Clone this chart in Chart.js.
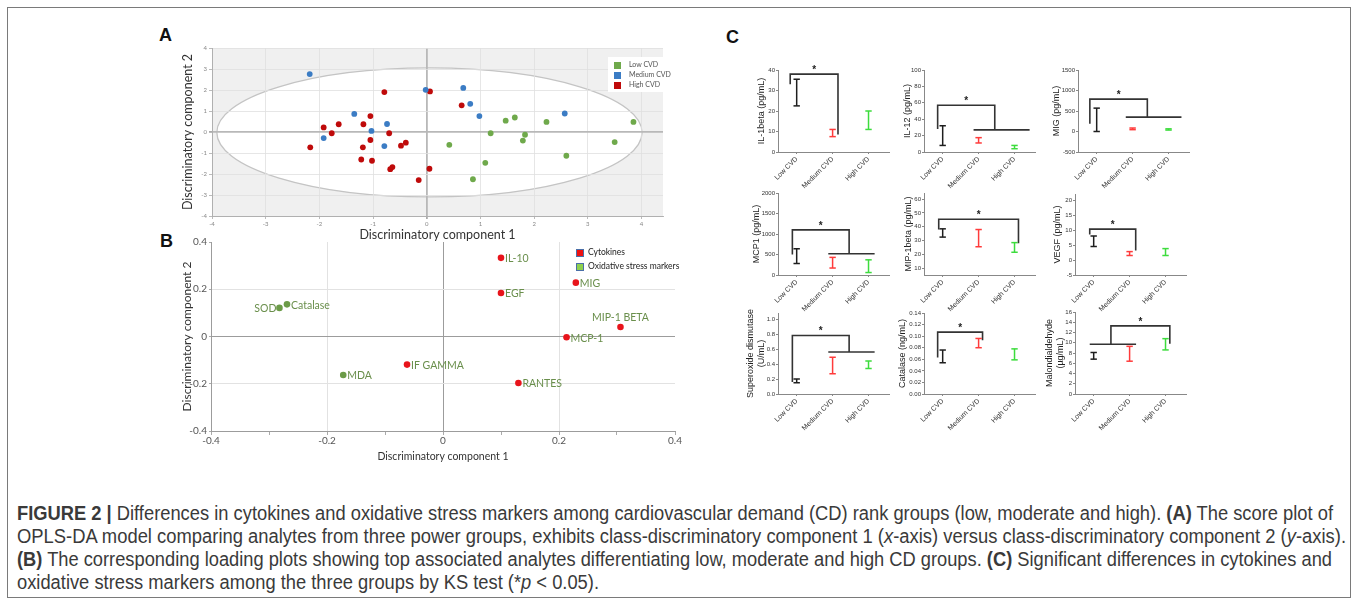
<!DOCTYPE html>
<html>
<head>
<meta charset="utf-8">
<title>Figure 2</title>
<script src="https://cdn.jsdelivr.net/npm/chart.js@4.4.1/dist/chart.umd.min.js"></script>
<style>
  html, body { margin: 0; padding: 0; background: #fff; }
  body { width: 1357px; height: 604px; position: relative; overflow: hidden; font-family: 'Liberation Sans', Arial, sans-serif; }
  #frame { position: absolute; left: 7px; top: 7px; width: 1344px; height: 591px; border: 1px solid #7a7a7a; box-sizing: border-box; }
  canvas { position: absolute; }
  .panel { position: absolute; font: bold 18px/18px 'Liberation Sans', Arial, sans-serif; color: #111; }
  .legend { position: absolute; background: #fff; font-family: Lato, sans-serif; }
  .legend span { position: absolute; white-space: nowrap; }
  .legend i { position: absolute; display: block; box-sizing: border-box; }
  .cap { position: absolute; left: 17px; white-space: nowrap; font: 19.5px/23px 'Liberation Sans', Arial, sans-serif; color: #3a3a3a; transform-origin: 0 0; }
</style>
</head>
<body>
<div id="frame"></div>

<div class="panel" style="left:159px;top:26px">A</div>
<div class="panel" style="left:160px;top:232px">B</div>
<div class="panel" style="left:726px;top:28px">C</div>

<div class="cap" id="l1" style="top:502px"><b>FIGURE 2 |</b> Differences in cytokines and oxidative stress markers among cardiovascular demand (CD) rank groups (low, moderate and high). <b>(A)</b> The score plot of</div>
<div class="cap" id="l2" style="top:525px">OPLS-DA model comparing analytes from three power groups, exhibits class-discriminatory component 1 (<i>x</i>-axis) versus class-discriminatory component 2 (<i>y</i>-axis).</div>
<div class="cap" id="l3" style="top:548px"><b>(B)</b> The corresponding loading plots showing top associated analytes differentiating low, moderate and high CD groups. <b>(C)</b> Significant differences in cytokines and</div>
<div class="cap" id="l4" style="top:571px">oxidative stress markers among the three groups by KS test (*<i>p</i> &lt; 0.05).</div>

<script>
// ---- panel A : score plot ----
const aTicks = [-4, -3, -2, -1, 0, 1, 2, 3, 4];
const lowX  = [0.42, 0.86, 1.09, 1.19, 1.47, 1.64, 1.79, 1.83, 2.23, 2.60, 3.50, 3.85];
const lowY  = [-0.61, -2.25, -1.47, -0.06, 0.54, 0.69, -0.41, -0.13, 0.48, -1.13, -0.48, 0.48];
const medX  = [-2.18, -1.92, -1.35, -1.03, -0.74, -0.79, -0.02, 0.68, 0.81, 0.98, 2.57];
const medY  = [2.76, -0.29, 0.86, 0.05, 0.38, -0.67, 2.01, 2.10, 1.34, 0.76, 0.88];
const highX = [-2.17, -1.92, -1.77, -1.64, -1.18, -1.05, -1.19, -1.05, -1.22, -1.02, -0.79, -0.70, -0.48, -0.39, -0.68, -0.64, -0.15, 0.06, 0.05, 0.65];
const highY = [-0.73, 0.22, -0.06, 0.37, 0.37, 0.76, -0.73, -0.38, -1.31, -1.37, 1.90, -0.06, -0.65, -0.51, -1.77, -1.67, -2.29, 1.93, -1.75, 1.27];
// Hotelling ellipse (centre and radii, data units)
const ellipse = [0.05, -0.02, 3.96, 3.07];

// ---- panel B : loading plot ----
const bxTicks = [-0.4, -0.3, -0.2, -0.1, 0, 0.1, 0.2, 0.3, 0.4];
const byTicks = [-0.4, -0.2, 0, 0.2, 0.4];
const cytoNames = ['IL-10', 'EGF', 'MIG', 'MIP-1 BETA', 'MCP-1', 'RANTES', 'IF GAMMA'];
const cytoX = [0.100, 0.100, 0.229, 0.306, 0.213, 0.130, -0.062];
const cytoY = [0.333, 0.184, 0.228, 0.040, -0.003, -0.197, -0.119];
const oxNames = ['MDA', 'SOD', 'Catalase'];
const oxX = [-0.172, -0.282, -0.269];
const oxY = [-0.163, 0.121, 0.136];

// ---- panel C : error bars (low / high end) per group ----
const groups = ['Low CVD', 'Medium CVD', 'High CVD'];
const il1bLo = [22.5, 7.5, 11],     il1bHi = [35.5, 11, 20];
const il12Lo = [8, 11, 4],          il12Hi = [32, 17.5, 8];
const migLo  = [0, 45, 35],         migHi  = [570, 85, 65];
const mcp1Lo = [280, 170, 60],      mcp1Hi = [640, 430, 370];
const mipLo  = [32.5, 25.5, 21.5],  mipHi  = [38.5, 38, 28.5];
const vegfLo = [4.5, 1.5, 1.5],     vegfHi = [8, 2.8, 3.8];
const sodLo  = [0.15, 0.27, 0.34],  sodHi  = [0.20, 0.49, 0.44];
const catLo  = [0.054, 0.080, 0.059], catHi = [0.076, 0.096, 0.078];
const mdaLo  = [6.8, 6.4, 8.6],     mdaHi  = [8.1, 9.3, 10.8];

const il1bTicks = [0, 10, 20, 30, 40];
const il12Ticks = [0, 20, 40, 60, 80, 100];
const migTicks  = [-500, 0, 500, 1000, 1500];
const mcp1Ticks = [0, 500, 1000, 1500, 2000];
const mipTicks  = [10, 20, 30, 40, 50, 60];
const vegfTicks = [-5, 0, 5, 10, 15, 20];
const sodTicks  = [0, 0.2, 0.4, 0.6, 0.8, 1.0];
const catTicks  = [0, 0.02, 0.04, 0.06, 0.08, 0.10, 0.12, 0.14];
const mdaTicks  = [0, 2, 4, 6, 8, 10, 12, 14, 16];

// significance brackets, x in group index units
const il1bSig = [[-0.18, 33], [-0.18, 38], [1.15, 38], [1.15, 8.5]];
const il12Sig = [[-0.14, 28], [-0.14, 57], [1.45, 57], [1.45, 27]];
const il12Grp = [[0.86, 27], [2.42, 27]];
const migSig  = [[-0.19, 190], [-0.19, 790], [1.41, 790], [1.41, 350]];
const migGrp  = [[0.81, 350], [2.36, 350]];
const mcp1Sig = [[-0.12, 500], [-0.12, 1100], [1.46, 1100], [1.46, 520]];
const mcp1Grp = [[0.88, 520], [2.17, 520]];
const mipSig  = [[-0.11, 38], [-0.11, 45.5], [2.11, 45.5], [2.11, 28]];
const vegfSig = [[-0.11, 8.5], [-0.11, 10.3], [1.17, 10.3], [1.17, 3.2]];
const sodSig  = [[-0.12, 0.16], [-0.12, 0.78], [1.46, 0.78], [1.46, 0.56]];
const sodGrp  = [[0.88, 0.56], [2.17, 0.56]];
const catSig  = [[-0.14, 0.063], [-0.14, 0.107], [1.11, 0.107], [1.11, 0.093]];
const mdaSig  = [[0.48, 9.7], [0.48, 13.3], [2.12, 13.3], [2.12, 9.8]];
const mdaGrp  = [[-0.11, 9.7], [1.18, 9.7]];

const barColors = ['#1e1e1e', '#ff3b3b', '#3ddc3d'];
const LATO = 'Lato, sans-serif';
const ARIAL = "'Liberation Sans', Arial, sans-serif";

Chart.defaults.animation = false;
Chart.defaults.responsive = false;
Chart.defaults.plugins.legend.display = false;
Chart.defaults.plugins.tooltip.enabled = false;

function addCanvas(left, top, w, h) {
  const c = document.createElement('canvas');
  c.width = w; c.height = h;
  c.style.left = left + 'px'; c.style.top = top + 'px';
  c.style.width = w + 'px'; c.style.height = h + 'px';
  document.body.appendChild(c);
  return c;
}
const zip = (xs, ys) => xs.map((x, i) => ({x: x, y: ys[i]}));
const fixTicks = arr => s => { s.ticks = arr.map(v => ({value: v})); };

// ---------- panel A ----------
const ellipseBg = {
  id: 'ellipseBg',
  beforeDraw(chart) {
    const {ctx, chartArea: a, scales: {x, y}} = chart;
    const cx = x.getPixelForValue(ellipse[0]), cy = y.getPixelForValue(ellipse[1]);
    const rx = x.getPixelForValue(ellipse[0] + ellipse[2]) - cx;
    const ry = cy - y.getPixelForValue(ellipse[1] + ellipse[3]);
    ctx.save();
    ctx.fillStyle = '#f0f0f0';
    ctx.fillRect(a.left, a.top, a.right - a.left, a.bottom - a.top);
    ctx.beginPath();
    ctx.ellipse(cx, cy, rx, ry, 0, 0, Math.PI * 2);
    ctx.fillStyle = '#fff';
    ctx.fill();
    ctx.strokeStyle = '#c4c4c4';
    ctx.lineWidth = 1.3;
    ctx.stroke();
    ctx.restore();
  }
};

const aGrid = {
  color: c => (c.tick && c.tick.value === 0) ? '#b8b8b8' : '#e0e0e0',
  lineWidth: c => (c.tick && c.tick.value === 0) ? 1.8 : 0.8,
  tickColor: '#aaa', tickLength: 3
};

new Chart(addCanvas(180, 42, 487, 200), {
  type: 'scatter',
  data: { datasets: [
    {data: zip(lowX, lowY), backgroundColor: '#6fa94b', borderWidth: 0, pointRadius: 2.9},
    {data: zip(medX, medY), backgroundColor: '#3b7cc4', borderWidth: 0, pointRadius: 2.9},
    {data: zip(highX, highY), backgroundColor: '#bf0a0a', borderWidth: 0, pointRadius: 2.9}
  ]},
  options: {
    layout: {padding: {top: 6, right: 4, left: 0, bottom: 0}},
    scales: {
      x: {type: 'linear', min: -4, max: 4.4, afterBuildTicks: fixTicks(aTicks),
          afterFit: s => { s.height = 26; },
          ticks: {font: {family: LATO, size: 6}, color: '#888', padding: 1, maxRotation: 0},
          grid: aGrid, border: {color: '#b0b0b0'},
          title: {display: true, text: 'Discriminatory component 1', font: {family: LATO, size: 12.5}, color: '#333', padding: 0}},
      y: {type: 'linear', min: -4, max: 4, afterBuildTicks: fixTicks(aTicks),
          afterFit: s => { s.width = 32; },
          ticks: {font: {family: LATO, size: 6}, color: '#888', padding: 2},
          grid: aGrid, border: {color: '#b0b0b0'},
          title: {display: true, text: 'Discriminatory component 2', font: {family: LATO, size: 12.5}, color: '#333', padding: 0}}
    }
  },
  plugins: [ellipseBg]
});

// ---------- panel B ----------
const pointLabels = {
  id: 'pointLabels',
  afterDatasetsDraw(chart) {
    const ctx = chart.ctx;
    ctx.save();
    ctx.font = '10.5px ' + LATO;
    ctx.fillStyle = '#6a8f4c';
    ctx.textBaseline = 'middle';
    chart.data.datasets.forEach((ds, di) => {
      chart.getDatasetMeta(di).data.forEach((el, i) => {
        const name = ds.names[i];
        if (name === 'SOD') {
          ctx.textAlign = 'right'; ctx.fillText(name, el.x - 3, el.y + 1);
        } else if (name === 'MIP-1 BETA') {
          ctx.textAlign = 'center'; ctx.fillText(name, el.x, el.y - 9);
        } else {
          ctx.textAlign = 'left'; ctx.fillText(name, el.x + 4, el.y + 1);
        }
      });
    });
    ctx.restore();
  }
};
const bFmt = v => { const r = Math.round(v * 10) / 10; return r === 0 ? '0' : r.toFixed(1); };
const bGridColor = c => {
  if (!c.tick) return 'rgba(0,0,0,0)';
  const v = Math.round(c.tick.value * 10) / 10;
  if (v === 0) return '#9c9c9c';
  if (Math.abs(v) === 0.2) return '#e2e2e2';
  return 'rgba(0,0,0,0)';
};

new Chart(addCanvas(180, 234, 509, 229), {
  type: 'scatter',
  data: { datasets: [
    {data: zip(cytoX, cytoY), names: cytoNames, backgroundColor: '#e8141b', borderWidth: 0, pointRadius: 3.3},
    {data: zip(oxX, oxY), names: oxNames, backgroundColor: '#6b9b47', borderWidth: 0, pointRadius: 3.3}
  ]},
  options: {
    layout: {padding: {top: 8, right: 14, left: 0, bottom: 0}},
    scales: {
      x: {type: 'linear', min: -0.4, max: 0.4, afterBuildTicks: fixTicks(bxTicks),
          afterFit: s => { s.height = 32; },
          ticks: {font: {family: LATO, size: 10}, color: '#555', padding: 0, maxRotation: 0, autoSkip: false,
                  callback: (v, i) => i % 2 === 0 ? bFmt(v) : ''},
          grid: {color: bGridColor, lineWidth: 1, tickColor: '#aaa', tickLength: 4},
          border: {color: '#9c9c9c'},
          title: {display: true, text: 'Discriminatory component 1', font: {family: LATO, size: 10.5}, color: '#333', padding: 0}},
      y: {type: 'linear', min: -0.4, max: 0.4, afterBuildTicks: fixTicks(byTicks),
          afterFit: s => { s.width = 31; },
          ticks: {font: {family: LATO, size: 10}, color: '#555', padding: 2, autoSkip: false, callback: v => bFmt(v)},
          grid: {color: bGridColor, lineWidth: 1, tickColor: '#aaa', tickLength: 2},
          border: {color: '#9c9c9c'},
          title: {display: true, text: 'Discriminatory component 2', font: {family: LATO, size: 12}, color: '#333', padding: 0}}
    }
  },
  plugins: [pointLabels]
});

// ---------- panel C ----------
const xMin = -0.52, xMax = 2.57, groupPx = 36;

const sigStar = {
  id: 'sigStar',
  afterDatasetsDraw(chart, args, opts) {
    const {ctx, scales: {x, y}} = chart;
    const s = opts.sig;
    const px = (x.getPixelForValue(s[1][0]) + x.getPixelForValue(s[2][0])) / 2;
    const py = y.getPixelForValue(s[1][1]);
    ctx.save();
    ctx.font = 'bold 10px ' + ARIAL;
    ctx.fillStyle = '#222';
    ctx.textAlign = 'center';
    ctx.textBaseline = 'middle';
    ctx.fillText('*', px, py - 4);
    ctx.restore();
  }
};

const cPanels = [
  {title: 'IL-1beta (pg/mL)', lo: il1bLo, hi: il1bHi, ticks: il1bTicks, min: 0, max: 40, dec: 0, sig: il1bSig, left: 778, top: 70, bottom: 152, titleX: 761.7},
  {title: 'IL-12 (pg/mL)', lo: il12Lo, hi: il12Hi, ticks: il12Ticks, min: 0, max: 100, dec: 0, sig: il12Sig, grp: il12Grp, left: 924, top: 70, bottom: 152, titleX: 907.5},
  {title: 'MIG (pg/mL)', lo: migLo, hi: migHi, ticks: migTicks, min: -500, max: 1500, dec: 0, sig: migSig, grp: migGrp, left: 1078, top: 70, bottom: 152, titleX: 1056.7},
  {title: 'MCP1 (pg/mL)', lo: mcp1Lo, hi: mcp1Hi, ticks: mcp1Ticks, min: 0, max: 2000, dec: 0, sig: mcp1Sig, grp: mcp1Grp, left: 778, top: 193, bottom: 275, titleX: 756.7},
  {title: 'MIP-1beta (pg/mL)', lo: mipLo, hi: mipHi, ticks: mipTicks, min: 5, max: 64.5, dec: 0, sig: mipSig, left: 924, top: 193, bottom: 275, titleX: 908.5},
  {title: 'VEGF (pg/mL)', lo: vegfLo, hi: vegfHi, ticks: vegfTicks, min: -5, max: 22, dec: 0, sig: vegfSig, left: 1075, top: 194, bottom: 275, titleX: 1057.3},
  {title: ['Superoxide dismutase', '(U/mL)'], lo: sodLo, hi: sodHi, ticks: sodTicks, min: 0, max: 1.08, dec: 1, sig: sodSig, grp: sodGrp, left: 778, top: 313, bottom: 394, titleX: 750},
  {title: 'Catalase (ng/mL)', lo: catLo, hi: catHi, ticks: catTicks, min: 0, max: 0.14, dec: 2, sig: catSig, left: 924, top: 313, bottom: 394, titleX: 902.5},
  {title: ['Malondialdehyde', '(\u00b5g/mL)'], lo: mdaLo, hi: mdaHi, ticks: mdaTicks, min: 0, max: 16, dec: 0, sig: mdaSig, grp: mdaGrp, left: 1075, top: 312, bottom: 394, titleX: 1049}
];

cPanels.forEach(p => {
  const pt = 8, pr = 6, hx = 42;
  const cLeft = Math.round(p.titleX - 5.4);
  const yW = p.left - cLeft;
  const plotW = Math.round((xMax - xMin) * groupPx);
  const plotH = p.bottom - p.top;
  const cv = addCanvas(cLeft, p.top - pt, yW + plotW + pr, pt + plotH + hx);

  const datasets = p.lo.map((v, i) => ({
    data: [{x: i, y: v}, {x: i, y: p.hi[i]}],
    showLine: true, borderColor: barColors[i], borderWidth: 1.5,
    pointStyle: 'line', pointRadius: 3.2, pointBorderWidth: 1.5, pointBorderColor: barColors[i]
  }));
  [p.sig, p.grp].forEach(seg => {
    if (!seg) return;
    datasets.push({data: seg.map(q => ({x: q[0], y: q[1]})), showLine: true,
                   borderColor: '#333', borderWidth: 1.6, pointRadius: 0});
  });

  new Chart(cv, {
    type: 'scatter',
    data: {datasets: datasets},
    options: {
      layout: {padding: {top: pt, right: pr, left: 0, bottom: 0}},
      scales: {
        x: {type: 'linear', min: xMin, max: xMax, afterBuildTicks: fixTicks([0, 1, 2]),
            afterFit: s => { s.height = hx; },
            ticks: {callback: v => groups[v], minRotation: 45, maxRotation: 45, autoSkip: false,
                    font: {family: ARIAL, size: 7}, color: '#333', padding: 1},
            grid: {drawOnChartArea: false, tickLength: 2, color: '#888'},
            border: {color: '#888'}},
        y: {type: 'linear', min: p.min, max: p.max, afterBuildTicks: fixTicks(p.ticks),
            afterFit: s => { s.width = yW; },
            ticks: {callback: v => v.toFixed(p.dec), autoSkip: false,
                    font: {family: ARIAL, size: 6}, color: '#333', padding: 1},
            grid: {drawOnChartArea: false, tickLength: 2, color: '#888'},
            border: {color: '#888'},
            title: {display: true, text: p.title, font: {family: ARIAL, size: 9, lineHeight: 1.2}, color: '#222', padding: 0}}
      },
      plugins: {sigStar: {sig: p.sig}}
    },
    plugins: [sigStar]
  });
});

// caption lines are stretched to the justified widths of the original
const capTargets = {l1: 1316, l2: 1329, l3: 1315};
let k1 = 1;
['l1', 'l2', 'l3', 'l4'].forEach(id => {
  const el = document.getElementById(id);
  const w = el.getBoundingClientRect().width;
  let k = capTargets[id] ? capTargets[id] / w : k1;
  if (id === 'l1') k1 = k;
  el.style.transform = 'scaleX(' + k + ')';
});
</script>

<div class="legend" style="left:608px;top:57px;width:57px;height:35px">
  <i style="left:6px;top:5px;width:7px;height:7px;background:#6fa94b"></i><span style="left:21px;top:3px;font-size:7px;color:#555">Low CVD</span>
  <i style="left:6px;top:15px;width:7px;height:7px;background:#3b7cc4"></i><span style="left:21px;top:13px;font-size:7px;color:#555">Medium CVD</span>
  <i style="left:6px;top:25px;width:7px;height:7px;background:#bf0a0a"></i><span style="left:21px;top:23px;font-size:7px;color:#555">High CVD</span>
</div>
<div class="legend" style="left:574px;top:246px;width:120px;height:26px;background:transparent">
  <i style="left:2px;top:3px;width:8px;height:8px;background:#ee1111;border:1px solid #4a6fa8"></i><span style="left:14px;top:1px;font-size:8.5px;color:#222">Cytokines</span>
  <i style="left:2px;top:17px;width:8px;height:8px;background:#8fd14f;border:1px solid #4a6fa8"></i><span style="left:14px;top:15px;font-size:8.5px;color:#222">Oxidative stress markers</span>
</div>
</body>
</html>
